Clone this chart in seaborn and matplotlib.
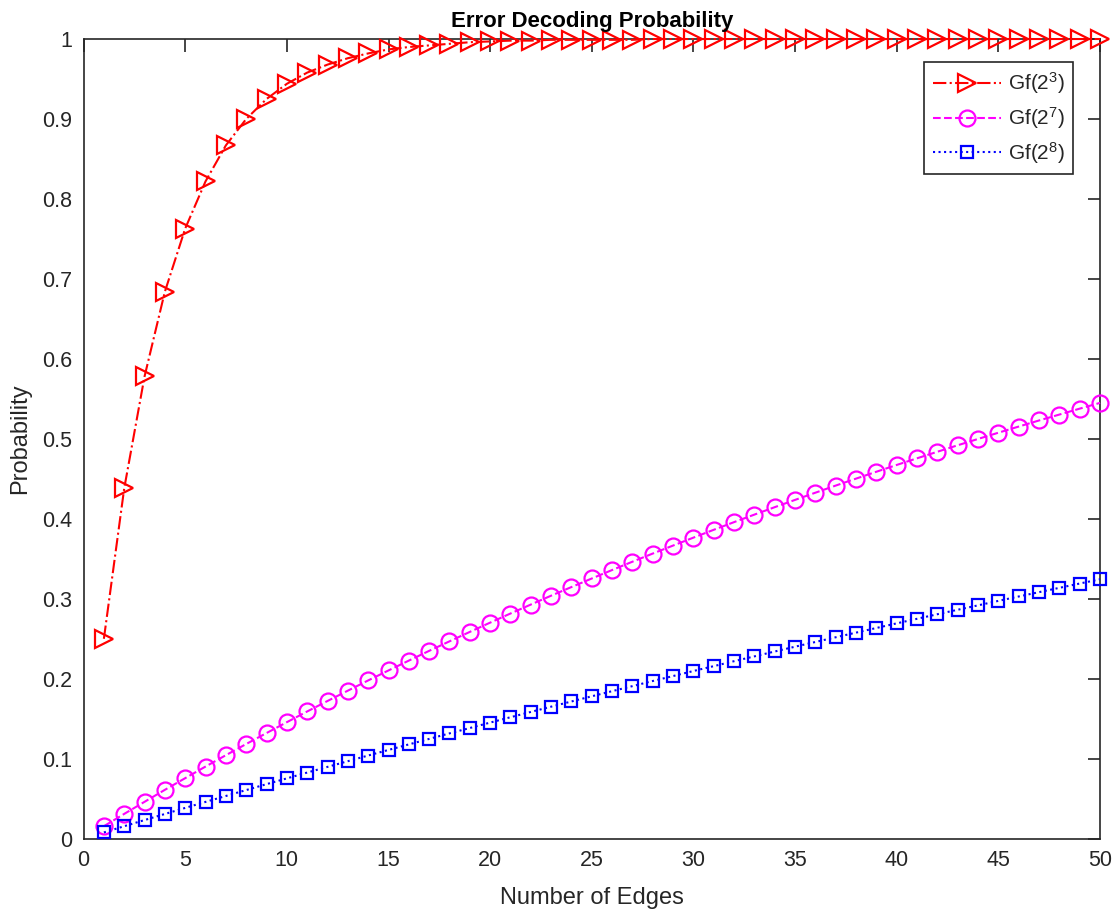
import matplotlib
matplotlib.use("Agg")
import matplotlib.pyplot as plt
import seaborn as sns
import pandas as pd

edges = list(range(1, 51))

gf8 = [0.250, 0.438, 0.578, 0.684, 0.763, 0.822, 0.867, 0.900, 0.925, 0.944,
       0.958, 0.968, 0.976, 0.982, 0.987, 0.990, 0.992, 0.994, 0.996, 0.997,
       0.998, 0.998, 0.999, 0.999, 0.999, 0.999, 0.999, 1.000, 1.000, 1.000,
       1.000, 1.000, 1.000, 1.000, 1.000, 1.000, 1.000, 1.000, 1.000, 1.000,
       1.000, 1.000, 1.000, 1.000, 1.000, 1.000, 1.000, 1.000, 1.000, 1.000]

gf128 = [0.0156, 0.0310, 0.0461, 0.0611, 0.0757, 0.0902, 0.1044, 0.1184, 0.1321, 0.1457,
         0.1591, 0.1722, 0.1851, 0.1979, 0.2104, 0.2227, 0.2349, 0.2468, 0.2586, 0.2702,
         0.2816, 0.2928, 0.3039, 0.3147, 0.3254, 0.3360, 0.3464, 0.3566, 0.3666, 0.3765,
         0.3863, 0.3959, 0.4053, 0.4146, 0.4237, 0.4327, 0.4416, 0.4503, 0.4589, 0.4674,
         0.4757, 0.4839, 0.4920, 0.4999, 0.5077, 0.5154, 0.5230, 0.5304, 0.5378, 0.5450]

gf256 = [0.0078, 0.0156, 0.0233, 0.0309, 0.0385, 0.0460, 0.0534, 0.0608, 0.0682, 0.0754,
         0.0827, 0.0898, 0.0969, 0.1040, 0.1110, 0.1179, 0.1248, 0.1317, 0.1384, 0.1452,
         0.1519, 0.1585, 0.1651, 0.1716, 0.1781, 0.1845, 0.1908, 0.1972, 0.2034, 0.2097,
         0.2158, 0.2220, 0.2280, 0.2341, 0.2401, 0.2460, 0.2519, 0.2577, 0.2635, 0.2693,
         0.2750, 0.2807, 0.2863, 0.2918, 0.2974, 0.3029, 0.3083, 0.3137, 0.3191, 0.3244]

labels = [r"Gf(2$^{3}$)", r"Gf(2$^{7}$)", r"Gf(2$^{8}$)"]
x_ticks = [0, 5, 10, 15, 20, 25, 30, 35, 40, 45, 50]
y_ticks = [0, 0.1, 0.2, 0.3, 0.4, 0.5, 0.6, 0.7, 0.8, 0.9, 1]
y_tick_labels = ["0", "0.1", "0.2", "0.3", "0.4", "0.5", "0.6", "0.7", "0.8", "0.9", "1"]

sns.set_style("white")
plt.rcParams["font.family"] = ["Liberation Sans", "DejaVu Sans"]
plt.rcParams["mathtext.fontset"] = "custom"
plt.rcParams["mathtext.rm"] = "Liberation Sans"
plt.rcParams["mathtext.it"] = "Liberation Sans"

fig = plt.figure(figsize=(11.14, 9.16), dpi=100)
ax = fig.add_axes([0.075, 0.0844, 0.9125, 0.873])

styles = [
    dict(color="#ff0000", marker=">", linestyle="-.", ms=12.5),
    dict(color="#ff00ff", marker="o", linestyle="--", ms=11.5),
    dict(color="#0000ff", marker="s", linestyle=":", ms=9),
]
for ys, lab, st in zip([gf8, gf128, gf256], labels, styles):
    df = pd.DataFrame({"x": edges, "y": ys})
    sns.lineplot(data=df, x="x", y="y", ax=ax, color=st["color"], linestyle=st["linestyle"],
                 marker=st["marker"], markersize=st["ms"], markerfacecolor="none",
                 markeredgecolor=st["color"], markeredgewidth=1.6, linewidth=1.5,
                 label=lab, clip_on=False, zorder=3)

ax.set_xlim(0, 50)
ax.set_ylim(0, 1)
ax.set_xticks(x_ticks)
ax.set_xticklabels([str(t) for t in x_ticks])
ax.set_yticks(y_ticks)
ax.set_yticklabels(y_tick_labels)
ax.tick_params(direction="in", length=9, width=1.2, top=True, right=True,
               labelsize=15.5, colors="#262626", pad=8)
for sp in ax.spines.values():
    sp.set_visible(True)
    sp.set_color("#262626")
    sp.set_linewidth(1.2)
    sp.set_zorder(2)

ax.set_xlabel("Number of Edges", fontsize=17, color="#262626", labelpad=12)
ax.set_ylabel("Probability", fontsize=17, color="#262626", labelpad=8)
ax.set_title("Error Decoding Probability", fontsize=16, fontweight="bold", color="black", pad=9)

leg = ax.legend(loc="upper right", bbox_to_anchor=(0.9734, 0.971), fontsize=15,
                frameon=True, fancybox=False, edgecolor="#262626", handlelength=3.3,
                borderpad=0.4, labelspacing=0.42, handletextpad=0.3, borderaxespad=0,
                framealpha=1)
leg.get_frame().set_linewidth(1.2)
leg.set_zorder(5)

fig.savefig("out.png", dpi=100, facecolor="white")
